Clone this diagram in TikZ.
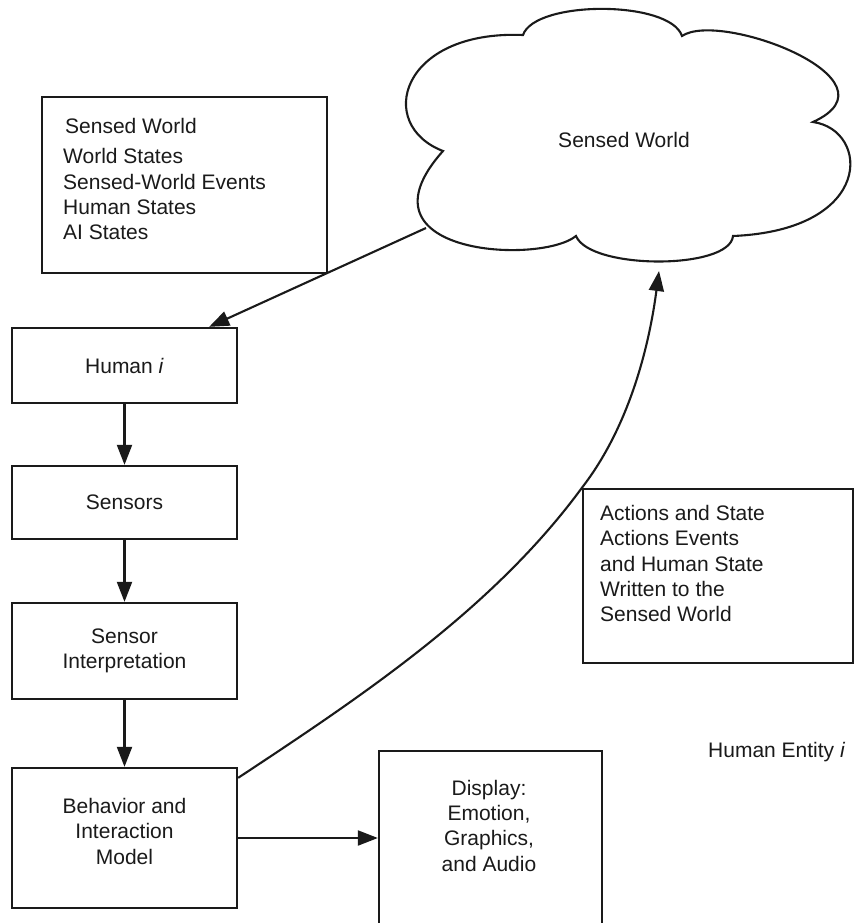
\documentclass[tikz,border=0pt]{standalone}
\usepackage{fontspec}
\setmainfont{Liberation Sans}
\usetikzlibrary{arrows.meta}
\definecolor{ink}{HTML}{1A1A1A}
\begin{document}
\begin{tikzpicture}[x=1pt,y=-1pt,
  box/.style={draw=ink, line width=2.3pt, rectangle, inner sep=0pt, align=center,
    text=ink, font=\fontsize{21}{25.5}\selectfont},
  txt/.style={inner sep=0pt, text=ink, font=\fontsize{21}{25.5}\selectfont},
  arr/.style={-{Triangle[length=20pt,width=15pt]}, line width=2.1pt, draw=ink},
]
\clip (0,0) rectangle (863,923);
\fill[white] (0,0) rectangle (863,923);

% cloud
\draw[ink, line width=2.1pt, fill=white]
  (523,35) .. controls (535,0) and (670,0) .. (682,36)
  .. controls (720,10) and (905,80) .. (813,122)
  .. controls (870,130) and (875,230) .. (733,236)
  .. controls (730,270) and (590,270) .. (576,236)
  .. controls (540,265) and (350,255) .. (443,151)
  .. controls (375,125) and (400,30) .. cycle;
\node[txt, anchor=base] (cloudtxt) at (624,147) {Sensed World};
\coordinate (cloudL) at (426,228);
\coordinate (cloudIn) at (659,271);

% top-left box
\node[box, minimum width=285pt, minimum height=176pt] (tl) at (184.5,185) {};
\node[txt, anchor=base west] (tl1) at (65,134) {Sensed World};
\node[txt, anchor=base west] (tl2) at (63,163) {World States};
\node[txt, anchor=base west] (tl3) at (63,189) {Sensed-World Events};
\node[txt, anchor=base west] (tl4) at (63,214) {Human States};
\node[txt, anchor=base west] (tl5) at (63,239) {AI States};

% left column
\node[box, minimum width=225pt, minimum height=75pt] (hum) at (124.5,365.5) {Human \textit{i}};
\node[box, minimum width=225pt, minimum height=73pt] (sen) at (124.5,502.5) {Sensors};
\node[box, minimum width=225pt, minimum height=96pt] (si) at (124.5,651) {Sensor\\Interpretation};
\node[box, minimum width=225pt, minimum height=140pt, text depth=14pt] (beh) at (124.5,838) {Behavior and\\Interaction\\Model};

% actions box
\node[box, minimum width=270pt, minimum height=174pt] (act) at (718,576) {};
\node[txt, anchor=base west] (act1) at (600,520) {Actions and State};
\node[txt, anchor=base west] (act2) at (600,545) {Actions Events};
\node[txt, anchor=base west] (act3) at (600,571) {and Human State};
\node[txt, anchor=base west] (act4) at (600,596) {Written to the};
\node[txt, anchor=base west] (act5) at (600,621) {Sensed World};

% display box (bottom runs off the page)
\node[box, minimum width=223pt, minimum height=209pt] (disp) at (490.5,855.5) {};
\node[txt, anchor=base] (d1) at (489,795) {Display:};
\node[txt, anchor=base] (d2) at (489,820) {Emotion,};
\node[txt, anchor=base] (d3) at (489,845) {Graphics,};
\node[txt, anchor=base] (d4) at (489,871) {and Audio};

% label
\node[txt, anchor=base west] (entity) at (708,757) {Human Entity \textit{i}};

% connectors
\draw[arr] (cloudL) -- ([xshift=-29pt]hum.north east);
\draw[arr] (hum) -- (sen);
\draw[arr] (sen) -- (si);
\draw[arr] (si) -- (beh);
\draw[arr] (beh.east) -- (beh.east -| disp.west);
\draw[arr] ([yshift=-11pt]beh.north east) .. controls (362,696) and (493,609) .. (act.north west)
  .. controls (629,427) and (649,347) .. (cloudIn);
\end{tikzpicture}
\end{document}
